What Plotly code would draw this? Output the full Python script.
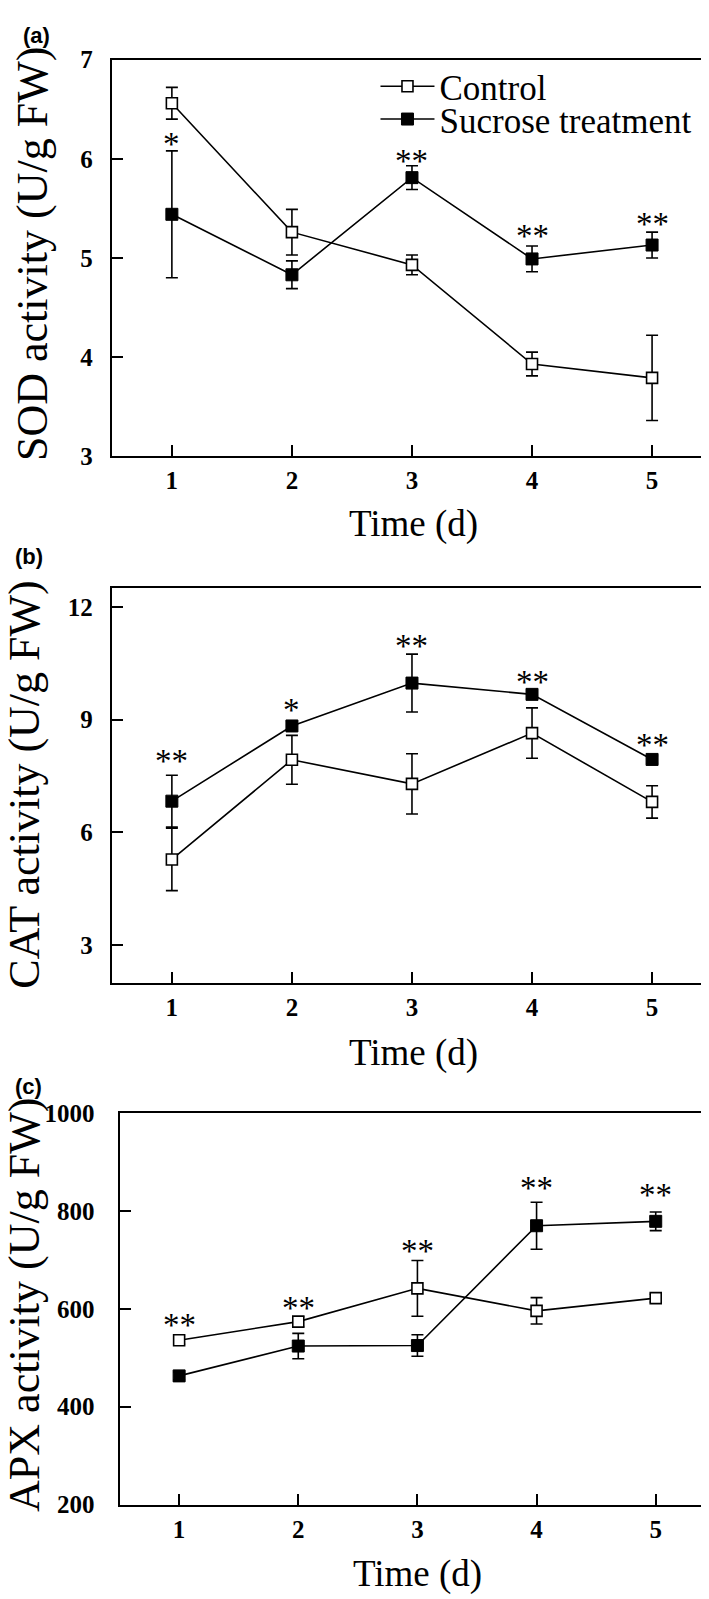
import plotly.graph_objects as go

# ---------------- data ----------------
days = [1, 2, 3, 4, 5]
tick_vals_x = [1, 2, 3, 4, 5]
tick_text_x = ["1", "2", "3", "4", "5"]

# (a) SOD
sod_ctrl = [6.56, 5.26, 4.93, 3.93, 3.79]
sod_ctrl_err = [0.16, 0.23, 0.10, 0.12, 0.43]
sod_suc = [5.44, 4.83, 5.81, 4.99, 5.13]
sod_suc_err = [0.64, 0.14, 0.12, 0.13, 0.13]
sod_sig_days = [1, 3, 4, 5]
sod_sig_text = ["*", "**", "**", "**"]
sod_sig_y = [6.22, 6.05, 5.29, 5.41]
sod_ticks = [3, 4, 5, 6, 7]

# (b) CAT
cat_ctrl = [5.28, 7.93, 7.29, 8.64, 6.81]
cat_ctrl_err = [0.83, 0.65, 0.80, 0.67, 0.43]
cat_suc = [6.83, 8.83, 9.97, 9.67, 7.94]
cat_suc_err = [0.69, 0.12, 0.77, 0.12, 0.10]
cat_sig_days = [1, 2, 3, 4, 5]
cat_sig_text = ["**", "*", "**", "**", "**"]
cat_sig_y = [8.09, 9.43, 11.15, 10.19, 8.50]
cat_ticks = [3, 6, 9, 12]

# (c) APX
apx_ctrl = [536, 574, 642, 596, 622]
apx_ctrl_err = [8, 10, 57, 27, 8]
apx_suc = [463, 524, 525, 770, 779]
apx_suc_err = [8, 26, 22, 48, 19]
apx_sig_days = [1, 2, 3, 4, 5]
apx_sig_text = ["**", "**", "**", "**", "**"]
apx_sig_y = [581, 616, 733, 861, 848]
apx_ticks = [200, 400, 600, 800, 1000]

series_names = ["Control", "Sucrose treatment"]
panel_letters = ["(a)", "(b)", "(c)"]
y_titles = ["SOD activity (U/g FW)", "CAT activity (U/g FW)", "APX activity (U/g FW)"]
x_title = "Time (d)"

# ---------------- layout helpers ----------------
W, H = 709, 1599
SERIF = "Liberation Serif, Times New Roman, serif"
SANS = "Liberation Sans, Arial, sans-serif"


def px(v):
    return v / W


def py(v):
    return 1 - v / H


# pixel boxes: left, right, top, bottom
boxes = [
    (104, 707.5, 39.3, 442.7),
    (104, 707.5, 576.7, 978.3),
    (111.7, 708.3, 1111, 1509),
]
y_ranges = [[3, 7], [2, 12.5], [200, 1000]]
x_ranges = [[0.5, 5.52], [0.5, 5.52], [0.5, 5.5]]

panels = [
    (sod_ctrl, sod_ctrl_err, sod_suc, sod_suc_err, sod_sig_days, sod_sig_text, sod_sig_y, sod_ticks),
    (cat_ctrl, cat_ctrl_err, cat_suc, cat_suc_err, cat_sig_days, cat_sig_text, cat_sig_y, cat_ticks),
    (apx_ctrl, apx_ctrl_err, apx_suc, apx_suc_err, apx_sig_days, apx_sig_text, apx_sig_y, apx_ticks),
]

fig = go.Figure()
annotations = []
layout_axes = {}

for i, (c, ce, s, se, sd, st, sy, yt) in enumerate(panels):
    n = "" if i == 0 else str(i + 1)
    xa, ya = "x" + n, "y" + n
    l, r, t, b = boxes[i]

    fig.add_trace(go.Scatter(
        x=days, y=s, mode="lines+markers", name=series_names[1],
        xaxis=xa, yaxis=ya,
        line=dict(color="black", width=1.6),
        marker=dict(symbol="square", size=12, color="black", line=dict(color="black", width=1)),
        error_y=dict(type="data", array=se, visible=True, color="black", thickness=1.6, width=6),
        showlegend=(i == 0), legend="legend2",
    ))
    fig.add_trace(go.Scatter(
        x=days, y=c, mode="lines+markers", name=series_names[0],
        xaxis=xa, yaxis=ya,
        line=dict(color="black", width=1.6),
        marker=dict(symbol="square", size=11, color="white", line=dict(color="black", width=1.6)),
        error_y=dict(type="data", array=ce, visible=True, color="black", thickness=1.6, width=6),
        showlegend=(i == 0), legend="legend",
    ))

    tickfont = dict(family=SERIF, size=25, color="black", weight="bold")
    layout_axes["xaxis" + n] = dict(
        domain=[px(l), px(r)], anchor=ya, range=x_ranges[i],
        tickmode="array", tickvals=tick_vals_x, ticktext=tick_text_x,
        ticks="inside", ticklen=11, tickwidth=2, tickcolor="black",
        showline=True, linewidth=2, linecolor="black", mirror=True,
        showgrid=False, zeroline=False, tickfont=tickfont,
        ticklabelstandoff=1,
    )
    layout_axes["yaxis" + n] = dict(
        domain=[py(b), py(t)], anchor=xa, range=y_ranges[i],
        tickmode="array", tickvals=yt, ticktext=[str(v) for v in yt],
        ticks="inside", ticklen=11, tickwidth=2, tickcolor="black",
        showline=True, linewidth=2, linecolor="black", mirror=True,
        showgrid=False, zeroline=False, tickfont=tickfont,
        ticklabelstandoff=12 if i < 2 else 18,
    )

    for d, txt, yy in zip(sd, st, sy):
        annotations.append(dict(
            x=d, y=yy, xref=xa, yref=ya, text=txt, showarrow=False,
            font=dict(family=SERIF, size=33, color="black"),
            xanchor="center", yanchor="middle", yshift=-7,
        ))

# titles & panel letters (pixel positions)
ytitle_x = [25, 17, 17]
ytitle_y = [237, 776, 1306]
xtitle_y = [512, 1050, 1580]
letter_pos = [(13, 14.5), (5, 545), (5, 1083.5)]
for i in range(3):
    l, r, t, b = boxes[i]
    annotations.append(dict(
        x=px(ytitle_x[i]), y=py(ytitle_y[i]), xref="paper", yref="paper",
        text=y_titles[i], textangle=-90, showarrow=False,
        font=dict(family=SERIF, size=44, color="black"),
        xanchor="center", yanchor="middle",
    ))
    annotations.append(dict(
        x=px((l + r) / 2), y=py(xtitle_y[i]), xref="paper", yref="paper",
        text=x_title, showarrow=False,
        font=dict(family=SERIF, size=37, color="black"),
        xanchor="center", yanchor="middle",
    ))
    annotations.append(dict(
        x=px(letter_pos[i][0]), y=py(letter_pos[i][1]), xref="paper", yref="paper",
        text="<b>" + panel_letters[i] + "</b>", showarrow=False,
        font=dict(family=SANS, size=22, color="black"),
        xanchor="left", yanchor="middle",
    ))

legend_font = dict(family=SERIF, size=35, color="black")
fig.update_layout(
    width=W, height=H,
    margin=dict(l=0, r=0, t=0, b=0),
    paper_bgcolor="white", plot_bgcolor="white",
    annotations=annotations,
    legend=dict(x=px(368), y=py(66.7), xanchor="left", yanchor="middle",
                bgcolor="rgba(0,0,0,0)", font=legend_font, itemwidth=54,
                borderwidth=0),
    legend2=dict(x=px(368), y=py(100), xanchor="left", yanchor="middle",
                 bgcolor="rgba(0,0,0,0)", font=legend_font, itemwidth=54,
                 borderwidth=0),
    **layout_axes,
)

fig.write_html("out.html")
